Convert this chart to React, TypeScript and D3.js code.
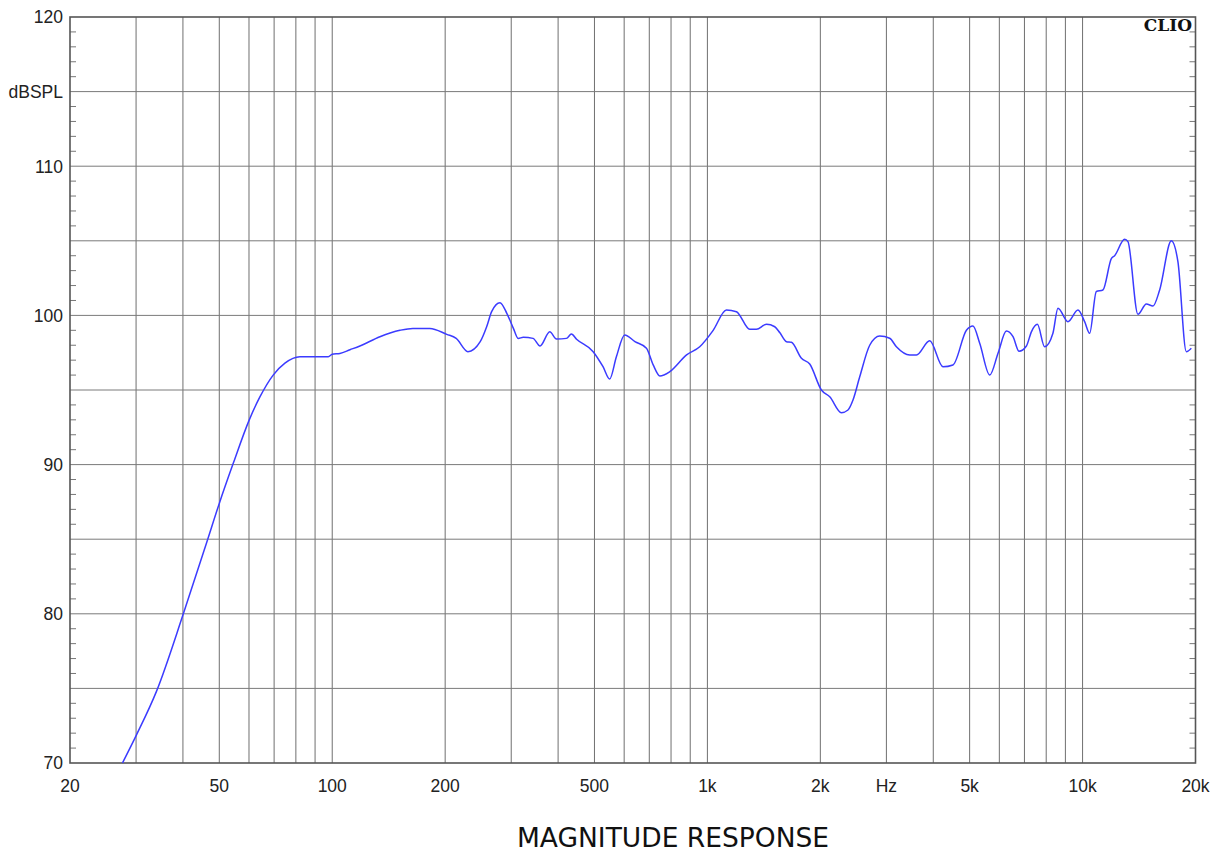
import React from "react";
import * as d3 from "d3";

// Measured magnitude response (Hz, dB SPL)
const freqs = [
  27.6, 30.1, 34.0, 40.1, 46.3, 50.0, 54.5, 60.1, 64.2, 69.6, 74.8, 82.0, 97.6, 100, 104.8, 111.5, 118.5,
  134, 151.5, 164, 182, 202, 214, 230, 248, 258, 266, 280, 292, 304, 313, 323, 343, 358, 380, 396, 421, 434, 448,
  496, 527, 549, 572, 602, 641, 688, 717, 747, 794, 880, 954, 1036, 1124, 1195, 1297, 1351, 1437, 1512, 1559,
  1625, 1675, 1781, 1874, 2013, 2119, 2276, 2370, 2444, 2548, 2708, 2880, 3061, 3190, 3462, 3608, 3913, 4246,
  4514, 4902, 5104, 5319, 5657, 5952, 6266, 6526, 6770, 7085, 7304, 7578, 7924, 8337, 8599, 9141, 9722, 10128,
  10443, 10882, 11331, 11932, 12174, 12948, 13213, 14048, 14792, 15405, 16050, 17240, 17954, 18904, 19493,
];
const levels = [
  70.0, 71.9, 74.8, 80.0, 84.8, 87.4, 90.1, 93.0, 94.55, 96.0, 96.8, 97.23, 97.23, 97.4, 97.45, 97.7, 97.95,
  98.57, 99.0, 99.13, 99.13, 98.73, 98.46, 97.57, 98.24, 99.24, 100.25, 100.85, 100.14, 99.13, 98.46, 98.53, 98.46,
  97.95, 98.9, 98.42, 98.46, 98.75, 98.4, 97.57, 96.56, 95.74, 97.23, 98.69, 98.24, 97.8, 96.68, 95.94, 96.23,
  97.35, 97.9, 99.0, 100.36, 100.25, 99.07, 99.07, 99.4, 99.24, 98.85, 98.24, 98.2, 97.12, 96.74, 95.0, 94.55,
  93.48, 93.66, 94.33, 95.9, 98.0, 98.62, 98.47, 97.9, 97.35, 97.35, 98.3, 96.56, 96.68, 99.0, 99.29, 98.13,
  96.0, 97.46, 98.95, 98.57, 97.6, 97.95, 98.9, 99.4, 97.9, 98.8, 100.48, 99.58, 100.36, 99.58, 98.8, 101.6,
  101.7, 103.8, 104.0, 105.1, 104.94, 100.07, 100.76, 100.63, 101.7, 105.0, 103.6, 97.57, 97.8,
];

// Axis labels
const xTickValues = [20, 50, 100, 200, 500, 1000, 2000, 3000, 5000, 10000, 20000];
const xTickLabels = ["20", "50", "100", "200", "500", "1k", "2k", "Hz", "5k", "10k", "20k"];
const yTickValues = [120, 115, 110, 100, 90, 80, 70];
const yTickLabels = ["120", "dBSPL", "110", "100", "90", "80", "70"];
const title = "MAGNITUDE RESPONSE";
const brand = "CLIO";

const W = 1216;
const H = 854;
const left = 70;
const right = 1195.5;
const top = 17;
const bottom = 763;

export default function App() {
  const x = d3.scaleLog().domain([20, 20000]).range([left, right]);
  const y = d3.scaleLinear().domain([70, 120]).range([bottom, top]);

  // vertical grid: 30..90, 100..900, 1k..9k, 10k..20k
  const vGrid: number[] = [];
  for (const dec of [10, 100, 1000, 10000]) {
    for (let m = 1; m <= 9; m++) {
      const f = m * dec;
      if (f > 20 && f < 20000) vGrid.push(f);
    }
  }
  const hGrid = d3.range(75, 120, 5);
  const minor = d3.range(71, 120, 1).filter((v) => v % 5 !== 0);

  const pts: [number, number][] = freqs.map((f, i) => [x(f), y(levels[i])]);
  const line = d3.line().curve(d3.curveMonotoneX)(pts) || "";

  const labelFont = "'Liberation Sans', Arial, sans-serif";

  return (
    <svg
      width={W}
      height={H}
      style={{ position: "absolute", left: 0, top: 0, background: "#fff" }}
    >
      {vGrid.map((f) => (
        <line key={"v" + f} x1={x(f)} x2={x(f)} y1={top} y2={bottom} stroke="#6f6f6f" strokeWidth={1} />
      ))}
      {hGrid.map((v) => (
        <line key={"h" + v} x1={left} x2={right} y1={y(v)} y2={y(v)} stroke="#7a7a7a" strokeWidth={1} />
      ))}
      {minor.map((v) => (
        <g key={"m" + v}>
          <line x1={left} x2={left + 6} y1={y(v)} y2={y(v)} stroke="#777" strokeWidth={1} />
          <line x1={right - 6} x2={right} y1={y(v)} y2={y(v)} stroke="#777" strokeWidth={1} />
        </g>
      ))}
      <rect
        x={left}
        y={top}
        width={right - left}
        height={bottom - top}
        fill="none"
        stroke="#555"
        strokeWidth={1.6}
      />
      <path d={line} fill="none" stroke="#3b3bff" strokeWidth={1.5} />
      {yTickValues.map((v, i) => (
        <text
          key={"yl" + v}
          x={63}
          y={y(v)}
          dy="0.36em"
          textAnchor="end"
          fontFamily={labelFont}
          fontSize={17.5}
          fill="#222"
        >
          {yTickLabels[i]}
        </text>
      ))}
      {xTickValues.map((v, i) => (
        <text
          key={"xl" + v}
          x={x(v)}
          y={792}
          textAnchor="middle"
          fontFamily={labelFont}
          fontSize={17.5}
          fill="#222"
        >
          {xTickLabels[i]}
        </text>
      ))}
      <text
        x={1192}
        y={31}
        textAnchor="end"
        fontFamily="'DejaVu Serif', serif"
        fontWeight="bold"
        fontSize={17}
        fill="#111"
      >
        {brand}
      </text>
      <text
        x={673}
        y={847}
        textAnchor="middle"
        fontFamily="'DejaVu Sans', Verdana, sans-serif"
        fontSize={26.5}
        fill="#111"
      >
        {title}
      </text>
    </svg>
  );
}
